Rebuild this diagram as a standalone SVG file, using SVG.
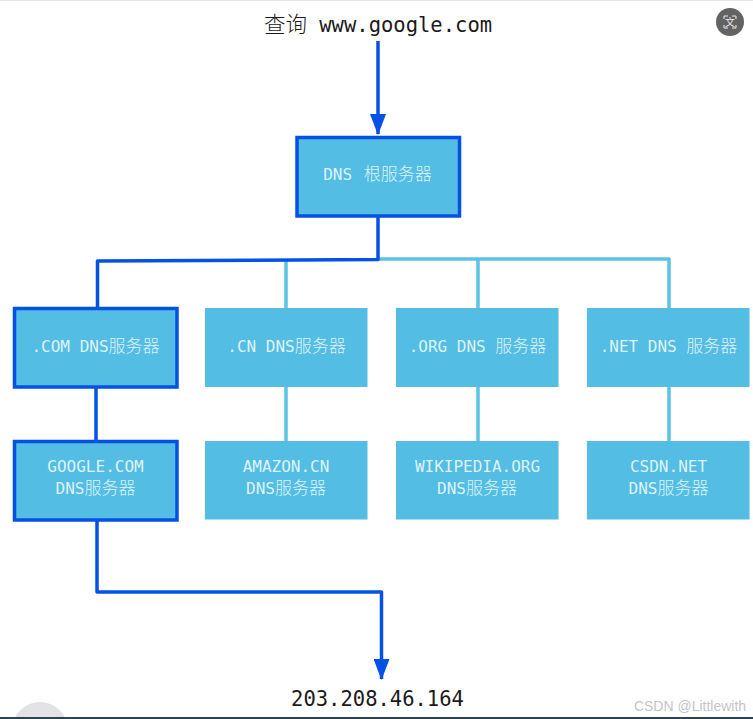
<svg xmlns="http://www.w3.org/2000/svg" width="753" height="719" viewBox="0 0 753 719">
<defs>
<marker id="arrow" markerUnits="userSpaceOnUse" markerWidth="21" markerHeight="16" refX="20" refY="8" orient="auto" viewBox="0 0 21 16"><path d="M0 0L21 8L0 16Z" fill="#0451e6"/></marker>
</defs>
<style>
text{font-family:"DejaVu Sans Mono","Liberation Mono","Noto Sans CJK SC",monospace}
.n{fill:#53bde3}
.b{stroke:#0451e6;stroke-width:3.5}
.t{fill:#dff3fb;font-size:16px;text-anchor:middle}
.c{font-size:17px;font-family:"Noto Sans CJK SC",sans-serif;font-weight:300}
.k{fill:#1a1a1a;font-size:20.500px;text-anchor:middle}
.q{font-size:21.500px;font-family:"Noto Sans CJK SC",sans-serif;font-weight:300}
.hot{fill:none;stroke:#0451e6;stroke-width:3.500;stroke-linejoin:round}
.cold{fill:none;stroke:#5ac3e6;stroke-width:3.500;stroke-linejoin:round}
</style>
<rect width="753" height="719" fill="#fff"/>
<rect width="753" height="1" fill="#e4e4e4"/>
<circle cx="40" cy="730" r="28" fill="#e1e3e4"/>
<rect y="717" width="753" height="2" fill="#2b4450"/>
<g id="connectors">
<path class="cold" d="M286 259V308M478 259V308M669 308V259H378M286 387V441M478 387V441M669 387V441"/>
<path class="hot" d="M378 41V134" marker-end="url(#arrow)"/>
<path class="hot" d="M378 217V259.500L97.500 261V308M96 388V441"/>
<path class="hot" d="M97 521V592H381.500V679" marker-end="url(#arrow)"/>
</g>
<g id="query"><text class="k" x="378" y="32"><tspan class="q">查询</tspan> www.google.com</text></g>
<g id="root"><rect class="n b" x="297" y="137.500" width="162.500" height="78.500"/><text class="t" x="377.500" y="180">DNS <tspan class="c" dx="2">根服务器</tspan></text></g>
<g id="com"><rect class="n b" x="14.500" y="308.500" width="162.500" height="78.500"/><text class="t" x="95.500" y="352">.COM DNS<tspan class="c">服务器</tspan></text></g>
<g id="cn"><rect class="n" x="205" y="308" width="162.500" height="79"/><text class="t" x="286.500" y="352">.CN DNS<tspan class="c">服务器</tspan></text></g>
<g id="org"><rect class="n" x="396" y="308" width="162.500" height="79"/><text class="t" x="477.500" y="352">.ORG DNS <tspan class="c">服务器</tspan></text></g>
<g id="net"><rect class="n" x="587" y="308" width="162.500" height="79"/><text class="t" x="668.500" y="352">.NET DNS <tspan class="c">服务器</tspan></text></g>
<g id="google"><rect class="n b" x="14.500" y="441.500" width="162.500" height="78.500"/><text class="t" x="95.500" y="472">GOOGLE.COM</text><text class="t" x="95.500" y="494">DNS<tspan class="c">服务器</tspan></text></g>
<g id="amazon"><rect class="n" x="205" y="441" width="162.500" height="78.500"/><text class="t" x="286" y="472">AMAZON.CN</text><text class="t" x="286" y="494">DNS<tspan class="c">服务器</tspan></text></g>
<g id="wikipedia"><rect class="n" x="396" y="441" width="162.500" height="78.500"/><text class="t" x="477.500" y="472">WIKIPEDIA.ORG</text><text class="t" x="477" y="494">DNS<tspan class="c">服务器</tspan></text></g>
<g id="csdn"><rect class="n" x="587" y="441" width="162.500" height="78.500"/><text class="t" x="668.500" y="472">CSDN.NET</text><text class="t" x="668.500" y="494">DNS<tspan class="c">服务器</tspan></text></g>
<g id="result"><text class="k" x="377.500" y="706">203.208.46.164</text></g>
<g id="badge"><circle cx="730" cy="22" r="14" fill="#636363"/><path d="M724 19V16H728M732 16H736V19M736 25V28H732M728 28H724V25" fill="none" stroke="#eee" stroke-width="1"/><text x="730" y="26" font-size="10" fill="#eee" text-anchor="middle" style="font-family:'Noto Sans CJK SC',sans-serif">文</text></g>
<text x="690" y="711" font-size="14" fill="#c4c4c4" text-anchor="middle" style="font-family:'Liberation Sans',sans-serif">CSDN @Littlewith</text>
</svg>
